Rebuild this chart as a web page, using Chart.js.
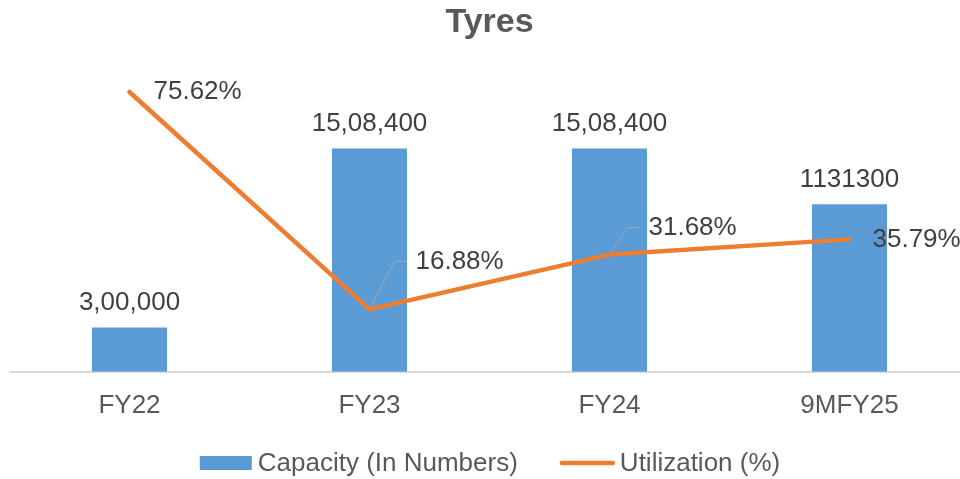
<!DOCTYPE html>
<html>
<head>
<meta charset="utf-8">
<script src="https://cdn.jsdelivr.net/npm/chart.js@4.4.1/dist/chart.umd.min.js"></script>
<style>
html, body { margin: 0; padding: 0; background: #fff; overflow: hidden; }
canvas { display: block; }
</style>
</head>
<body>
<canvas id="tyres" width="980" height="479"></canvas>
<script>
var categories = ['FY22', 'FY23', 'FY24', '9MFY25'];
var capacity = [300000, 1508400, 1508400, 1131300];
var capacityText = ['3,00,000', '15,08,400', '15,08,400', '1131300'];
var utilization = [75.62, 16.88, 31.68, 35.79];

var font = '"Liberation Sans", Arial, sans-serif';
var blue = '#5B9BD5';
var orange = '#ED7D31';

// where each % label sits relative to its point (two were dragged off in excel)
var pctLabelPos = [
    { dx: 24, dy: 0 },
    { dx: 46, dy: -48, leader: true },
    { dx: 39, dy: -27, leader: true },
    { dx: 23, dy: 0 }
];

var valueLabels = {
    id: 'valueLabels',
    afterDatasetsDraw: function (chart) {
        var ctx = chart.ctx;
        ctx.save();
        ctx.font = '26px ' + font;
        ctx.fillStyle = '#404040';
        ctx.textBaseline = 'middle';

        ctx.textAlign = 'center';
        chart.getDatasetMeta(0).data.forEach(function (bar, i) {
            ctx.fillText(capacityText[i], bar.x, bar.y - 25);
        });

        ctx.textAlign = 'left';
        chart.getDatasetMeta(1).data.forEach(function (pt, i) {
            var p = pctLabelPos[i];
            var tx = pt.x + p.dx, ty = pt.y + p.dy;
            if (p.leader) {
                var ex = tx - 21, ey = ty;
                var len = Math.hypot(ex - pt.x, ey - pt.y);
                ctx.strokeStyle = '#A6A6A6';
                ctx.lineWidth = 1;
                ctx.beginPath();
                ctx.moveTo(pt.x + (ex - pt.x) * 3 / len, pt.y + (ey - pt.y) * 3 / len);
                ctx.lineTo(ex, ey);
                ctx.lineTo(tx - 9, ty);
                ctx.stroke();
            }
            ctx.fillText(utilization[i].toFixed(2) + '%', tx, ty);
        });
        ctx.restore();
    }
};

var bottomLegend = {
    id: 'bottomLegend',
    afterDraw: function (chart) {
        var ctx = chart.ctx;
        var sets = chart.data.datasets;
        ctx.save();
        ctx.font = '26px ' + font;
        ctx.textBaseline = 'middle';
        ctx.textAlign = 'left';
        var w0 = ctx.measureText(sets[0].label).width;
        var w1 = ctx.measureText(sets[1].label).width;
        var total = 52 + 6 + w0 + 42 + 55 + 5 + w1;
        var x = 490 - total / 2;
        var y = 463;

        ctx.fillStyle = blue;
        ctx.fillRect(x, y - 7, 52, 14);
        ctx.fillStyle = '#595959';
        ctx.fillText(sets[0].label, x + 58, y + 1);

        x += 52 + 6 + w0 + 42;
        ctx.strokeStyle = orange;
        ctx.lineWidth = 4.5;
        ctx.lineCap = 'round';
        ctx.beginPath();
        ctx.moveTo(x + 2, y);
        ctx.lineTo(x + 53, y);
        ctx.stroke();
        ctx.fillText(sets[1].label, x + 60, y + 1);
        ctx.restore();
    }
};

var ctx = document.getElementById('tyres').getContext('2d');
var config = {
    type: 'bar',
    data: {
        labels: categories,
        datasets: [{
            type: 'bar',
            label: 'Capacity (In Numbers)',
            data: capacity,
            backgroundColor: blue,
            yAxisID: 'y',
            order: 2,
            barPercentage: 0.3125,
            categoryPercentage: 1
        }, {
            type: 'line',
            label: 'Utilization (%)',
            data: utilization,
            borderColor: orange,
            backgroundColor: orange,
            borderWidth: 4.5,
            pointRadius: 0,
            borderCapStyle: 'round',
            borderJoinStyle: 'round',
            yAxisID: 'y1',
            order: 1
        }]
    },
    options: {
        responsive: false,
        animation: false,
        layout: { padding: { left: 9.5, right: 10.5, top: 0, bottom: 40 } },
        plugins: {
            legend: { display: false },
            tooltip: { enabled: false },
            title: {
                display: true,
                text: 'Tyres',
                color: '#595959',
                font: { family: font, size: 34, weight: 'bold' },
                padding: { top: 2, bottom: 33 }
            }
        },
        scales: {
            x: {
                grid: { display: false, drawTicks: false },
                border: { color: '#D9D9D9', width: 2 },
                ticks: { color: '#595959', padding: 18, font: { family: font, size: 26 } }
            },
            y: { display: false, min: 0, max: 2000000 },
            y1: { display: false, min: 0, max: 80, position: 'right' }
        }
    },
    plugins: [valueLabels, bottomLegend]
};

var chart = new Chart(ctx, config);
</script>
</body>
</html>
